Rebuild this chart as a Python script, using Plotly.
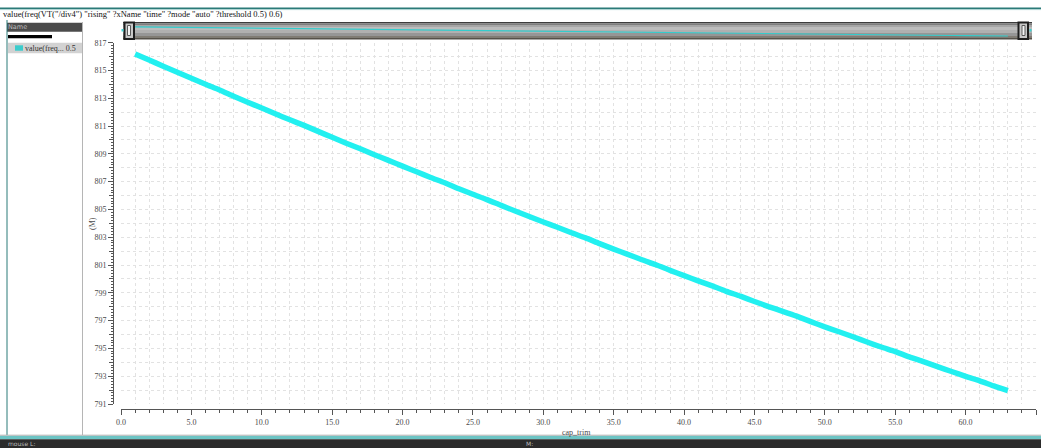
import plotly.graph_objects as go

# Measured oscillator frequency (MHz) versus capacitor trim code
cap_trim = list(range(1, 64))
freq_mhz = [
    816.19, 815.75, 815.31, 814.88, 814.44, 814.01, 813.60, 813.15, 812.72, 812.30,
    811.87, 811.45, 811.05, 810.62, 810.19, 809.77, 809.37, 808.94, 808.53, 808.12,
    807.71, 807.30, 806.92, 806.49, 806.09, 805.71, 805.29, 804.89, 804.49, 804.10,
    803.72, 803.32, 802.95, 802.54, 802.15, 801.77, 801.38, 801.02, 800.62, 800.24,
    799.86, 799.50, 799.11, 798.76, 798.38, 798.01, 797.67, 797.32, 796.93, 796.55,
    796.20, 795.84, 795.46, 795.10, 794.77, 794.39, 794.05, 793.69, 793.34, 792.99,
    792.67, 792.30, 791.96,
]

x_tick_vals = [0, 5, 10, 15, 20, 25, 30, 35, 40, 45, 50, 55, 60, 65]
x_tick_labels = ["0.0", "5.0", "10.0", "15.0", "20.0", "25.0", "30.0",
                 "35.0", "40.0", "45.0", "50.0", "55.0", "60.0", "65.0"]
y_tick_vals = [791, 793, 795, 797, 799, 801, 803, 805, 807, 809, 811, 813, 815, 817]
y_tick_labels = ["791", "793", "795", "797", "799", "801", "803",
                 "805", "807", "809", "811", "813", "815", "817"]

title_text = 'value(freq(VT("/div4") "rising" ?xName "time" ?mode "auto" ?threshold 0.5) 0.6)'
legend_label = "value(freq... 0.5"

W, H = 1041, 448
SERIF = "Liberation Serif, DejaVu Serif, serif"
LINE_COLOR = "#22f0f0"
TEXT_COLOR = "#4a4a4a"


def fx(px):
    return px / W


def fy(py):
    return 1 - py / H


fig = go.Figure()

# main curve
fig.add_trace(go.Scatter(
    x=cap_trim, y=freq_mhz, mode="lines",
    line=dict(color=LINE_COLOR, width=5.5, shape="spline", smoothing=0.6),
    showlegend=False, hoverinfo="skip",
))
# overview strip inside the scroll bar
fig.add_trace(go.Scatter(
    x=cap_trim, y=freq_mhz, mode="lines", xaxis="x2", yaxis="y2",
    line=dict(color="#33cccc", width=1.2),
    showlegend=False, hoverinfo="skip",
))
# carrier for the fine tick axis
fig.add_trace(go.Scatter(x=[], y=[], yaxis="y3", showlegend=False))

grid_color = "#e2e2e2"
axis_color = "#555555"

plot_x0, plot_x1 = 121, 1036
plot_y0, plot_y1 = 42.7, 404

fig.update_layout(
    template="none",
    width=W, height=H, autosize=False,
    margin=dict(l=0, r=0, t=0, b=0, pad=0),
    paper_bgcolor="white", plot_bgcolor="rgba(0,0,0,0)",
    font=dict(family=SERIF, size=8, color=TEXT_COLOR),
    xaxis=dict(
        domain=[fx(plot_x0), fx(plot_x1)], range=[0, 65],
        anchor="free", position=fy(409),
        tickvals=x_tick_vals, ticktext=x_tick_labels,
        ticks="outside", ticklen=5, tickcolor=axis_color, tickwidth=1,
        showline=True, linecolor=axis_color, linewidth=1,
        showgrid=True, gridcolor=grid_color, griddash="dot", gridwidth=1,
        minor=dict(dtick=1, ticks="outside", ticklen=3, tickcolor=axis_color,
                   showgrid=True, gridcolor=grid_color, griddash="dot"),
        zeroline=False, tickfont=dict(family=SERIF, size=8, color=TEXT_COLOR),
        fixedrange=True,
    ),
    yaxis=dict(
        domain=[fy(plot_y1), fy(plot_y0)], range=[791, 817],
        anchor="free", position=fx(113),
        tickvals=y_tick_vals, ticktext=y_tick_labels,
        ticks="outside", ticklen=5, tickcolor=axis_color, tickwidth=1,
        showline=True, linecolor=axis_color, linewidth=1,
        showgrid=True, gridcolor=grid_color, griddash="dot", gridwidth=1,
        minor=dict(dtick=1, ticks="outside", ticklen=4, tickcolor=axis_color,
                   showgrid=True, gridcolor=grid_color, griddash="dot"),
        zeroline=False, tickfont=dict(family=SERIF, size=8, color=TEXT_COLOR),
        fixedrange=True,
    ),
    yaxis3=dict(
        overlaying="y", range=[791, 817], anchor="free", position=fx(113),
        dtick=0.2, ticks="outside", ticklen=2, tickcolor=axis_color,
        showticklabels=False, showgrid=False, showline=False, zeroline=False,
        fixedrange=True,
    ),
    xaxis2=dict(
        domain=[fx(plot_x0), fx(plot_x1)], range=[0, 65], anchor="y2",
        visible=False, fixedrange=True,
    ),
    yaxis2=dict(
        domain=[fy(37), fy(24)], range=[789.3, 824], anchor="x2",
        visible=False, fixedrange=True,
    ),
)

shapes = []


def rect(x0, y0, x1, y1, fill, line_color=None, line_width=0, layer="below"):
    shapes.append(dict(
        type="rect", xref="paper", yref="paper",
        x0=fx(x0), x1=fx(x1), y0=fy(y1), y1=fy(y0),
        fillcolor=fill, layer=layer,
        line=dict(color=line_color or fill, width=line_width),
    ))


def hline(x0, x1, y, color, width=1, layer="above"):
    shapes.append(dict(type="line", xref="paper", yref="paper",
                       x0=fx(x0), x1=fx(x1), y0=fy(y), y1=fy(y),
                       line=dict(color=color, width=width), layer=layer))


def vline(x, y0, y1, color, width=1, layer="above"):
    shapes.append(dict(type="line", xref="paper", yref="paper",
                       x0=fx(x), x1=fx(x), y0=fy(y0), y1=fy(y1),
                       line=dict(color=color, width=width), layer=layer))


# window frame
hline(0, W, 8.3, "#2a7a78", 1.5)
hline(0, W, 9.6, "#a8d0cf", 1)
vline(7, 20, 435, "#2a7a78", 1)

# scroll bar body (banded shading)
bands = [
    (22, 23.5, "#3c3c3c"), (23.5, 25, "#7e7e7e"), (25, 27, "#a6a6a6"),
    (27, 30, "#bcbcbc"), (30, 33, "#b0b0b0"), (33, 36, "#969696"),
    (36, 38, "#807c74"), (38, 39.5, "#55514a"),
]
for y0, y1, c in bands:
    rect(123, y0, 1032, y1, c)
# scroll bar end grips
rect(124.5, 22.5, 134, 39, "#c8c8c8", "#1e1e1e", 2, layer="above")
rect(127.5, 25.5, 130.5, 35.5, "#f4f4f4", "#5a5a5a", 1, layer="above")
rect(1018.5, 22.5, 1028, 39, "#c8c8c8", "#1e1e1e", 2, layer="above")
rect(1022, 25.5, 1025, 35.5, "#f4f4f4", "#5a5a5a", 1, layer="above")
rect(121.5, 29, 123.5, 31.5, "#3cd0d0", layer="above")
rect(1029.5, 29, 1031.5, 31.5, "#3cd0d0", layer="above")

# name panel
rect(7, 22.7, 82.5, 31.7, "#4b4b4b")
rect(8, 35, 52, 38.3, "#000000")
rect(8, 42.7, 82, 53.3, "#d2d2d2")
rect(15, 45.3, 23, 50.7, "#3ccccc", layer="above")
vline(82.5, 22, 435, "#b5b5b5", 1)

# status bar
hline(0, W, 435.2, "#b0b0b0", 1)
rect(0, 435.8, W, 439.2, "#6cc4c4")
rect(0, 439.2, W, H, "#2b2b2b")

fig.update_layout(shapes=shapes)

annotations = [
    dict(text=title_text, x=fx(2), y=fy(14.5), xanchor="left", yanchor="middle",
         font=dict(family=SERIF, size=8.5, color="#111111")),
    dict(text="Name", x=fx(6.5), y=fy(27), xanchor="left", yanchor="middle",
         font=dict(family="DejaVu Sans, sans-serif", size=6.5, color="#bdbdbd")),
    dict(text=legend_label, x=fx(24), y=fy(48.2), xanchor="left", yanchor="middle",
         font=dict(family=SERIF, size=8, color="#333333")),
    dict(text="(M)", x=fx(92), y=fy(224), xanchor="center", yanchor="middle",
         textangle=-90, font=dict(family=SERIF, size=8, color=TEXT_COLOR)),
    dict(text="cap_trim", x=fx(576), y=fy(432), xanchor="center", yanchor="middle",
         font=dict(family=SERIF, size=8, color=TEXT_COLOR)),
    dict(text="mouse L:", x=fx(7), y=fy(443.7), xanchor="left", yanchor="middle",
         font=dict(family="DejaVu Sans, sans-serif", size=6, color="#bbbbbb")),
    dict(text="M:", x=fx(525), y=fy(443.7), xanchor="left", yanchor="middle",
         font=dict(family="DejaVu Sans, sans-serif", size=6, color="#bbbbbb")),
]
for a in annotations:
    a.update(xref="paper", yref="paper", showarrow=False, borderpad=0)
fig.update_layout(annotations=annotations)

fig.write_html(
    "out.html",
    config={"displayModeBar": False},
    post_script="document.body.style.margin='0';",
)
